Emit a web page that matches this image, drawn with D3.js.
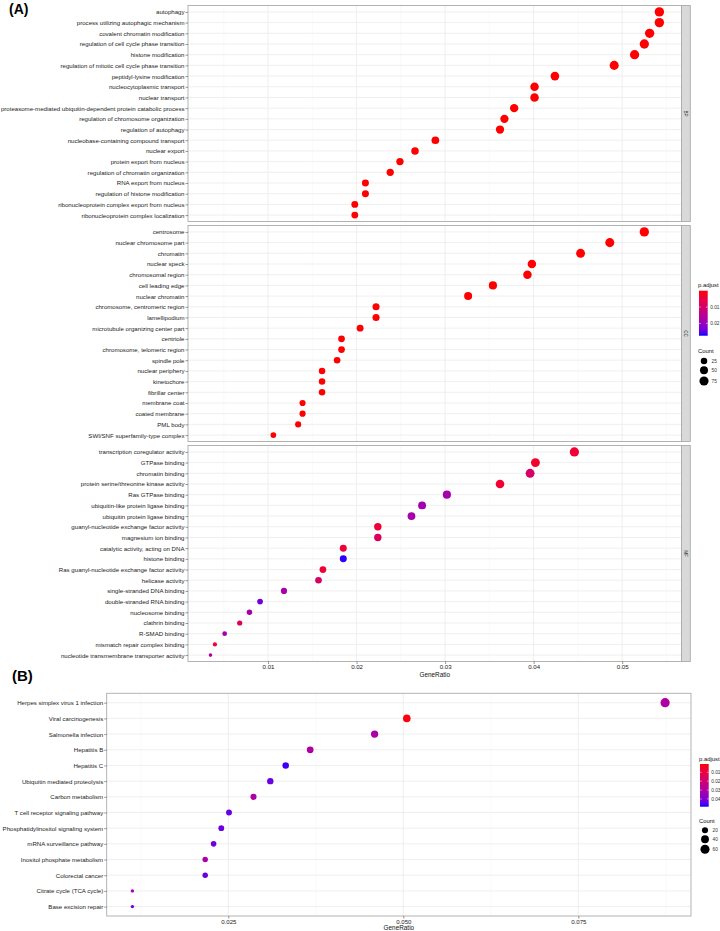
<!DOCTYPE html>
<html><head><meta charset="utf-8">
<script src="https://cdn.jsdelivr.net/npm/d3@7"></script>
<style>
html,body{margin:0;padding:0;background:#fff;}
svg{display:block;font-family:"Liberation Sans",Arial,sans-serif;}
</style></head>
<body>
<svg id="chart" width="720" height="931"></svg>
<script>
// ---------- DATA ----------
const bpTerms = ["autophagy","process utilizing autophagic mechanism","covalent chromatin modification","regulation of cell cycle phase transition","histone modification","regulation of mitotic cell cycle phase transition","peptidyl-lysine modification","nucleocytoplasmic transport","nuclear transport","proteasome-mediated ubiquitin-dependent protein catabolic process","regulation of chromosome organization","regulation of autophagy","nucleobase-containing compound transport","nuclear export","protein export from nucleus","regulation of chromatin organization","RNA export from nucleus","regulation of histone modification","ribonucleoprotein complex export from nucleus","ribonucleoprotein complex localization"];
const bpRatio = [0.0542,0.0542,0.0531,0.0525,0.0514,0.0491,0.0424,0.0401,0.0401,0.0378,0.0367,0.0362,0.0289,0.0266,0.0249,0.0238,0.0210,0.0210,0.0198,0.0198];
const bpCount = [82,82,80,79,78,74,64,61,61,57,56,55,44,40,38,36,32,32,30,30];
const bpPadj  = [0.00001,0.00001,0.00001,0.00001,0.00001,0.00001,0.00001,0.00001,0.00001,0.00001,0.00001,0.00001,0.00001,0.00001,0.00001,0.00001,0.00001,0.00001,0.00001,0.00001];

const ccTerms = ["centrosome","nuclear chromosome part","chromatin","nuclear speck","chromosomal region","cell leading edge","nuclear chromatin","chromosome, centromeric region","lamellipodium","microtubule organizing center part","centriole","chromosome, telomeric region","spindle pole","nuclear periphery","kinetochore","fibrillar center","membrane coat","coated membrane","PML body","SWI/SNF superfamily-type complex"];
const ccRatio = [0.0525,0.0486,0.0453,0.0398,0.0393,0.0354,0.0326,0.0222,0.0222,0.0204,0.0183,0.0183,0.0178,0.0161,0.0161,0.0161,0.0139,0.0139,0.0134,0.0106];
const ccCount = [80,74,69,61,60,54,50,34,34,31,28,28,27,25,25,25,21,21,20,16];
const ccPadj  = [0.00001,0.00001,0.00001,0.00001,0.00001,0.00001,0.00001,0.00001,0.00001,0.00001,0.00001,0.00001,0.00001,0.00001,0.00001,0.00001,0.00001,0.00001,0.00001,0.00001];

const mfTerms = ["transcription coregulator activity","GTPase binding","chromatin binding","protein serine/threonine kinase activity","Ras GTPase binding","ubiquitin-like protein ligase binding","ubiquitin protein ligase binding","guanyl-nucleotide exchange factor activity","magnesium ion binding","catalytic activity, acting on DNA","histone binding","Ras guanyl-nucleotide exchange factor activity","helicase activity","single-stranded DNA binding","double-stranded RNA binding","nucleosome binding","clathrin binding","R-SMAD binding","mismatch repair complex binding","nucleotide transmembrane transporter activity"];
const mfRatio = [0.0446,0.0402,0.0396,0.0362,0.0302,0.0274,0.0262,0.0224,0.0224,0.0185,0.0185,0.0162,0.0157,0.0118,0.0091,0.0079,0.0068,0.0051,0.0040,0.0035];
const mfCount = [78,70,69,63,53,48,46,39,39,32,32,28,27,21,16,14,12,9,7,6];
const mfPadj  = [0.0040,0.0030,0.0096,0.0035,0.0180,0.0185,0.0180,0.0040,0.0085,0.0040,0.0268,0.0040,0.0095,0.0180,0.0235,0.0180,0.0080,0.0180,0.0040,0.0170];

const keggTerms = ["Herpes simplex virus 1 infection","Viral carcinogenesis","Salmonella infection","Hepatitis B","Hepatitis C","Ubiquitin mediated proteolysis","Carbon metabolism","T cell receptor signaling pathway","Phosphatidylinositol signaling system","mRNA surveillance pathway","Inositol phosphate metabolism","Colorectal cancer","Citrate cycle (TCA cycle)","Base excision repair"];
const keggRatio = [0.0874,0.0505,0.0459,0.0367,0.0332,0.0310,0.0286,0.0251,0.0240,0.0229,0.0217,0.0217,0.0113,0.0113];
const keggCount = [62,36,33,26,24,22,20,18,17,16,15,15,8,8];
const keggPadj  = [0.0300,0.0020,0.0310,0.0300,0.0470,0.0430,0.0300,0.0430,0.0430,0.0420,0.0310,0.0430,0.0330,0.0420];

const facetNames = ["BP","CC","MF"];
const aTicks = [0.01,0.02,0.03,0.04,0.05];
const aTickLabels = ["0.01","0.02","0.03","0.04","0.05"];
const bTicks = [0.025,0.050,0.075];
const bTickLabels = ["0.025","0.050","0.075"];
const aPadjTicks = [0.01,0.02];
const aPadjLabels = ["0.01","0.02"];
const bPadjTicks = [0.01,0.02,0.03,0.04];
const bPadjLabels = ["0.01","0.02","0.03","0.04"];
const aCountTicks = [25,50,75];
const bCountTicks = [20,40,60];

// ---------- DRAW ----------
const svg = d3.select("#chart");
const FONT = 6.1;
const txtCol = "#222";
const borderCol = "#ababab";
const majorGrid = "#ebebeb";
const minorGrid = "#f5f5f5";

function colorScale(dom){
  return d3.scaleLinear().domain(dom).range(["#ff0000","#0000ff"]).interpolate(d3.interpolateLab).clamp(true);
}
function sizeScale(cmin,cmax,rmin,rmax){
  const s = d3.scaleSqrt().domain([0,cmax-cmin]).range([rmin,rmax]);
  return c => s(Math.max(0,c-cmin));
}

function drawPanel(parent, terms, ratio, count, padj, x, y0, y1, xMinor, xMajor, col, size){
  const g = parent.append("g");
  const y = d3.scalePoint().domain(terms).range([y0,y1]).padding(0.6);
  const x0 = x.range()[0], x1 = x.range()[1];
  g.append("rect").attr("x",x0).attr("y",y0).attr("width",x1-x0).attr("height",y1-y0).attr("fill","#fff");
  g.append("g").selectAll("line").data(xMinor).join("line").attr("x1",d=>x(d)).attr("x2",d=>x(d)).attr("y1",y0).attr("y2",y1).attr("stroke",minorGrid).attr("stroke-width",0.5);
  g.append("g").selectAll("line").data(xMajor).join("line").attr("x1",d=>x(d)).attr("x2",d=>x(d)).attr("y1",y0).attr("y2",y1).attr("stroke",majorGrid).attr("stroke-width",0.8);
  g.append("g").selectAll("line").data(terms).join("line").attr("x1",x0).attr("x2",x1).attr("y1",d=>y(d)).attr("y2",d=>y(d)).attr("stroke",majorGrid).attr("stroke-width",0.8);
  const data = terms.map((t,i)=>({t, r:ratio[i], c:count[i], p:padj[i]}));
  g.append("g").selectAll("circle").data(data).join("circle")
    .attr("cx",d=>x(d.r)).attr("cy",d=>y(d.t)).attr("r",d=>size(d.c)).attr("fill",d=>col(d.p));
  g.append("rect").attr("x",x0).attr("y",y0).attr("width",x1-x0).attr("height",y1-y0).attr("fill","none").attr("stroke",borderCol).attr("stroke-width",0.9);
  const ax = g.append("g").attr("transform",`translate(${x0},0)`).call(d3.axisLeft(y).tickSize(2.5).tickPadding(1));
  ax.select(".domain").remove();
  ax.selectAll("line").attr("stroke","#333").attr("stroke-width",0.5);
  ax.selectAll("text").attr("font-size",FONT).attr("fill",txtCol).attr("font-family","Liberation Sans, Arial, sans-serif");
  return y;
}

function drawXAxis(g, x, yb, ticks, labels, titleY){
  const ax = g.append("g").attr("transform",`translate(0,${yb})`).call(d3.axisBottom(x).tickValues(ticks).tickFormat((d,i)=>labels[i]).tickSize(2.5).tickPadding(1));
  ax.select(".domain").remove();
  ax.selectAll("line").attr("stroke","#333").attr("stroke-width",0.5);
  ax.selectAll("text").attr("font-size",FONT).attr("fill",txtCol).attr("font-family","Liberation Sans, Arial, sans-serif");
  const xr = x.range();
  g.append("text").attr("x",(xr[0]+xr[1])/2).attr("y",titleY).attr("text-anchor","middle").attr("font-size",6.4).attr("fill","#111").text("GeneRatio");
}

function drawLegend(g, id, col, dom, top, bottom, barX, padjTicks, padjLabels, titleY, countTitleY, countTicks, countYs, size, circX){
  g.append("text").attr("x",barX-1).attr("y",titleY).attr("font-size",5.9).attr("fill","#111").text("p.adjust");
  const grad = svg.append("defs").append("linearGradient").attr("id",id).attr("x1",0).attr("x2",0).attr("y1",0).attr("y2",1);
  d3.range(0,1.0001,0.05).forEach(t=>{
    grad.append("stop").attr("offset",t).attr("stop-color",col(dom[0]+t*(dom[1]-dom[0])));
  });
  const bw = 8.7;
  g.append("rect").attr("x",barX).attr("y",top).attr("width",bw).attr("height",bottom-top).attr("fill",`url(#${id})`);
  const ly = d3.scaleLinear().domain(dom).range([top,bottom]);
  padjTicks.forEach((v,i)=>{
    g.append("line").attr("x1",barX).attr("x2",barX+1.8).attr("y1",ly(v)).attr("y2",ly(v)).attr("stroke","#fff").attr("stroke-width",0.5);
    g.append("line").attr("x1",barX+bw-1.8).attr("x2",barX+bw).attr("y1",ly(v)).attr("y2",ly(v)).attr("stroke","#fff").attr("stroke-width",0.5);
    g.append("text").attr("x",barX+bw+2.5).attr("y",ly(v)).attr("dy","0.35em").attr("font-size",4.8).attr("fill","#333").text(padjLabels[i]);
  });
  g.append("text").attr("x",barX-1).attr("y",countTitleY).attr("font-size",5.9).attr("fill","#111").text("Count");
  countTicks.forEach((c,i)=>{
    g.append("circle").attr("cx",circX).attr("cy",countYs[i]).attr("r",size(c)).attr("fill","#000");
    g.append("text").attr("x",circX+7.5).attr("y",countYs[i]).attr("dy","0.35em").attr("font-size",4.8).attr("fill","#333").text(c);
  });
}

// ===== Panel A =====
const gA = svg.append("g");
const xA = d3.scaleLinear().domain([0.00096,0.0567]).range([188,681.5]);
const aMinor = [0.005,0.015,0.025,0.035,0.045,0.055];
const colA = colorScale([0,0.0275]);
const allA = bpCount.concat(ccCount, mfCount);
const sizeA = sizeScale(d3.min(allA), d3.max(allA), 1.8, 4.7);
const facetTerms = [bpTerms, ccTerms, mfTerms];
const facetRatio = [bpRatio, ccRatio, mfRatio];
const facetCount = [bpCount, ccCount, mfCount];
const facetPadj = [bpPadj, ccPadj, mfPadj];
const facetY = [[5.5,221.5],[225.5,441.5],[445.5,661.5]];
facetNames.forEach((nm,i)=>{
  const [y0,y1] = facetY[i];
  drawPanel(gA, facetTerms[i], facetRatio[i], facetCount[i], facetPadj[i], xA, y0, y1, aMinor, aTicks, colA, sizeA);
  gA.append("rect").attr("x",681.5).attr("y",y0).attr("width",8.8).attr("height",y1-y0).attr("fill","#d9d9d9").attr("stroke",borderCol).attr("stroke-width",0.9);
  const cx = 686, cy = (y0+y1)/2;
  gA.append("text").attr("transform",`translate(${cx},${cy}) rotate(90)`).attr("text-anchor","middle").attr("dy","0.35em").attr("font-size",4.6).attr("fill","#222").text(nm);
});
drawXAxis(gA, xA, 661.5, aTicks, aTickLabels, 677);
drawLegend(gA, "gradA", colA, [0,0.0275], 290.7, 335.7, 699, aPadjTicks, aPadjLabels, 287, 353, aCountTicks, [361,370.3,381], sizeA, 704);

gA.append("text").attr("x",9).attr("y",14).attr("font-size",14).attr("font-weight","bold").attr("fill","#000").text("(A)");

// ===== Panel B =====
const gB = svg.append("g");
const xB = d3.scaleLinear().domain([0.00763,0.0911]).range([106.7,691]);
const bMinor = [0.0125,0.0375,0.0625,0.0875];
const colB = colorScale([0.0007,0.0487]);
const sizeB = sizeScale(d3.min(keggCount), d3.max(keggCount), 1.7, 4.6);
drawPanel(gB, keggTerms, keggRatio, keggCount, keggPadj, xB, 693.3, 916, bMinor, bTicks, colB, sizeB);
drawXAxis(gB, xB, 916, bTicks, bTickLabels, 929.5);
drawLegend(gB, "gradB", colB, [0.0007,0.0487], 764, 806.7, 700, bPadjTicks, bPadjLabels, 761, 823, bCountTicks, [830.3,839.3,849.3], sizeB, 705);

gB.append("text").attr("x",12).attr("y",681).attr("font-size",15).attr("font-weight","bold").attr("fill","#000").text("(B)");
</script>
</body></html>
